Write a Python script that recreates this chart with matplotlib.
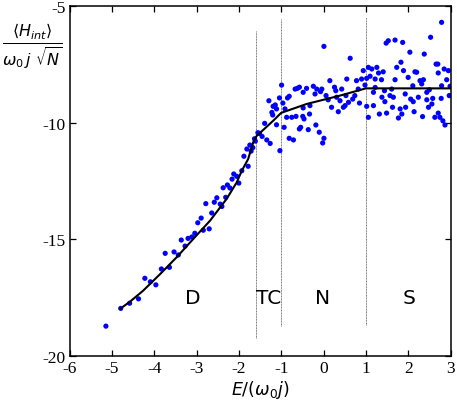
import matplotlib
matplotlib.use("Agg")
import matplotlib.pyplot as plt
from matplotlib.font_manager import FontProperties

x_pts = [-5.14, -4.79, -4.58, -4.37, -4.22, -4.09, -3.96, -3.83, -3.64, -3.74,
         -3.53, -3.43, -3.36, -3.27, -3.20, -3.11, -3.04, -2.84, -2.70, -2.97,
         -2.89, -2.78, -2.64, -2.58, -2.52, -2.44, -2.40, -2.31, -2.37, -2.27,
         -2.21, -2.16, -2.12, -2.05, -2.00, -1.93, -1.88, -1.78, -1.81, -1.74,
         -1.67, -1.71, -1.63, -1.55, -1.51, -1.61, -1.45, -1.39, -1.34, -1.26,
         -1.29, -1.22, -1.19, -1.14, -1.11, -1.03, -1.20,
         -1.04, -0.99, -0.96, -0.91, -0.93, -0.85, -0.81, -0.87, -0.81, -0.75,
         -0.71, -0.67, -0.62, -0.57, -0.65, -0.54, -0.57, -0.49, -0.48, -0.40,
         -0.36, -0.33, -0.32, -0.24, -0.20, -0.16, -0.18, -0.10, -0.04, -0.02,
         0.01, -0.07, 0.01, 0.06, 0.11, 0.15, 0.19, 0.26, 0.31, 0.35,
         0.39, 0.43, 0.47, 0.51, 0.55, 0.63, 0.53, 0.59, 0.69, 0.74,
         0.78, 0.82, 0.85, 0.90, 0.94, 1.02, 0.98, 1.06, 1.10, 1.14,
         1.22, 1.26, 1.30, 1.02, 1.06, 1.18, 1.18, 1.32, 1.38, 1.41,
         1.44, 1.48, 1.53, 1.57, 1.61, 1.63, 1.65, 1.69, 1.69, 1.73,
         1.77, 1.81, 1.85, 1.87, 1.83, 1.89, 1.93, 1.94, 2.00, 2.04,
         2.06, 2.11, 2.12, 2.16, 2.20, 2.24, 2.28, 2.32, 2.34, 2.36,
         2.38, 2.44, 2.48, 2.53, 2.56, 2.58, 2.63, 2.66, 2.70, 2.71,
         2.75, 2.78, 2.79, 2.82, 2.85, 2.87, 2.91, 2.95, 2.97, 2.79,
         -1.11, -0.46, -0.48, 2.71, 1.37, 2.99, 1.22, 2.50, 2.44, 1.45,
         2.14, 1.49, 0.29]
y_pts = [-18.72, -17.96, -17.74, -17.55, -16.67, -16.82, -16.95, -16.27, -16.20, -15.60,
         -15.54, -15.67, -15.03, -15.29, -14.96, -14.90, -14.74, -14.61, -14.55, -14.29,
         -14.09, -13.47, -13.87, -13.41, -13.22, -13.49, -13.59, -13.20, -12.79, -12.67,
         -12.80, -12.42, -12.20, -12.30, -12.59, -12.06, -11.44, -11.87, -11.13, -10.96,
         -11.07, -11.22, -10.69, -10.43, -10.46, -10.79, -10.59, -10.03, -10.74, -10.89,
         -9.06, -9.56, -9.30, -9.24, -10.09, -11.20, -9.67,
         -8.94, -8.39, -9.16, -9.41, -10.20, -8.94, -8.87, -9.77, -10.67, -9.77,
         -10.74, -8.56, -8.53, -8.48, -9.73, -10.20, -10.27, -9.73, -8.70, -8.53,
         -10.30, -9.63, -9.27, -8.44, -8.77, -8.56, -10.10, -10.41, -8.56, -10.87,
         -10.67, -8.67, -6.73, -8.84, -9.02, -8.20, -9.34, -8.48, -8.91, -9.53,
         -9.06, -8.56, -9.34, -9.27, -8.13, -7.24, -8.84, -9.13, -8.99, -8.84,
         -8.20, -8.56, -9.16, -8.13, -7.77, -8.10, -8.39, -7.63, -8.01, -7.70,
         -8.13, -7.63, -7.87, -9.30, -9.77, -9.27, -8.70, -9.63, -8.91, -7.82,
         -8.63, -6.59, -6.49, -8.84, -8.56, -9.34, -8.91, -6.46, -8.16, -7.63,
         -9.80, -9.41, -9.63, -6.56, -7.41, -7.77, -8.77, -9.34, -8.06, -6.98,
         -8.99, -8.42, -9.10, -7.82, -7.84, -8.91, -8.20, -8.34, -9.74, -8.16,
         -7.06, -9.02, -9.34, -6.34, -9.20, -8.96, -9.77, -7.49, -7.49, -9.59,
         -9.77, -8.96, -5.70, -9.92, -7.70, -10.10, -8.16, -7.77, -8.84, -8.42,
         -9.41, -9.84, -9.37, -7.87, -8.16, -8.44, -8.49, -8.59, -8.70, -9.10,
         -9.53, -9.59, -8.63]

curve_x = [-4.79, -4.57, -4.26, -3.86, -3.47, -3.08, -2.68, -2.29, -2.05, -1.93,
           -1.78, -1.66, -1.58, -1.19, -1.00, -0.40, 0.39, 1.00, 3.00]
curve_y = [-17.96, -17.67, -17.20, -16.49, -15.77, -14.99, -14.20, -13.27, -12.56, -12.06,
           -11.56, -10.84, -10.57, -9.92, -9.58, -9.20, -8.84, -8.53, -8.53]

boundaries = [-1.6, -1.0, 1.0]
boundary_top = [-6.06, -5.56, -5.49]
boundary_bottom = [-19.23, -18.70, -18.66]

region_labels = ["D", "TC", "N", "S"]
region_x = [-3.08, -1.30, -0.02, 2.03]
region_y = -17.49

xticks = [-6, -5, -4, -3, -2, -1, 0, 1, 2, 3]
yticks = [-20, -15, -10, -5]

serif = FontProperties(family=["Liberation Serif", "DejaVu Serif"], size=12.5)

fig = plt.figure(figsize=(4.57, 4.02), dpi=100)
ax = fig.add_axes([69.5 / 457, 45 / 402, 381 / 457, 350 / 402])

for xb, yt, yb in zip(boundaries, boundary_top, boundary_bottom):
    ax.plot([xb, xb], [yb, yt], color="0.45", lw=0.7, linestyle=(0, (1, 0.6)), zorder=1)

ax.scatter(x_pts, y_pts, s=14, color="#0000ff", edgecolors="none", zorder=2)
ax.plot(curve_x, curve_y, color="black", lw=1.5, zorder=3)

for lab, lx in zip(region_labels, region_x):
    ax.text(lx, region_y, lab, ha="center", va="center", fontsize=14.5,
            family="DejaVu Sans", zorder=4)

ax.set_xlim(-6, 3)
ax.set_ylim(-20, -5)
ax.set_xticks(xticks)
ax.set_yticks(yticks)
ax.set_xticklabels([str(v) for v in xticks])
ax.set_yticklabels([str(v) for v in yticks])
for t in ax.get_xticklabels() + ax.get_yticklabels():
    t.set_fontproperties(serif)
ax.tick_params(direction="in", length=4, width=0.9, top=True, right=True, pad=3)
for sp in ax.spines.values():
    sp.set_linewidth(1.1)

ax.set_xlabel(r"$E/(\omega_0 j)$", fontsize=12.5, labelpad=1)
fig.text(32 / 457, 1 - 46 / 402,
         r"$\frac{\langle H_{int}\rangle}{\omega_0\, j\ \sqrt{N}}$",
         ha="center", va="center", fontsize=16.5)

fig.savefig("out.png", dpi=100)
